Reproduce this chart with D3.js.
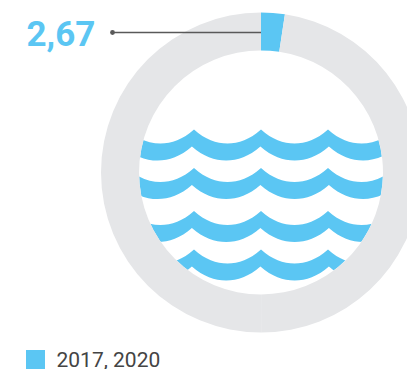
<!DOCTYPE html>
<html>
<head>
<meta charset="utf-8">
<script src="https://cdnjs.cloudflare.com/ajax/libs/d3/7.9.0/d3.min.js"></script>
<style>html,body{margin:0;padding:0;background:#fff;overflow:hidden}svg{display:block}</style>
</head>
<body>
<script>
const sliceNames = ["value", "restRight", "restLeft"];
const sliceValues = [2.67, 53.2, 55.9];
const valueLabel = "2,67";
const legendLabels = ["2017, 2020"];
const waveRows = ["row1", "row2", "row3", "row4"];
const waveCrests = [-3, -2, -1, 0, 1, 2, 3];

const W = 407, H = 369, cx = 261, cy = 172.5, R = 160, r = 122;
const BLUE = "#5bc6f3", GREY = "#e5e6e8", DARK = "#595959";
const svg = d3.select("body").append("svg").attr("width", W).attr("height", H);

const color = d3.scaleOrdinal().domain(sliceNames).range([BLUE, GREY, GREY]);
const rowY = d3.scaleOrdinal().domain(waveRows).range([129.5, 168, 211, 249.5]);
const crestTop = d3.scaleLinear().domain([0, 1]).range([261, 328]);
const crestBottom = d3.scaleLinear().domain([0, 1]).range([260.4, 328.9]);

svg.append("clipPath").attr("id", "inner").append("circle")
  .attr("cx", cx).attr("cy", cy).attr("r", r);

const waveDepth = 14, waveThick = 17, shoulder = 0.72;
// One scallop between two crests, drawn as two cubic halves meeting flat at the trough.
function scallop(p, x0, x1, y) {
  const m = (x0 + x1) / 2, d = (x1 - x0) / 6, t = y + waveDepth;
  p.bezierCurveTo(x0 + d, y + waveDepth * shoulder, m - d, t, m, t);
  p.bezierCurveTo(m + d, t, x1 - d, y + waveDepth * shoulder, x1, y);
}
function bandPath(row) {
  const y0 = rowY(row), p = d3.path();
  const top = waveCrests.map(c => crestTop(c));
  const bot = waveCrests.map(c => crestBottom(c)).reverse();
  p.moveTo(top[0], y0);
  for (let i = 1; i < top.length; i++) scallop(p, top[i - 1], top[i], y0);
  p.lineTo(bot[0], y0 + waveThick);
  for (let i = 1; i < bot.length; i++) scallop(p, bot[i - 1], bot[i], y0 + waveThick);
  p.closePath();
  return p.toString();
}
svg.append("g").attr("clip-path", "url(#inner)")
  .selectAll("path").data(waveRows).join("path")
  .attr("d", bandPath).attr("fill", BLUE);

const pie = d3.pie().sort(null)(sliceValues);
const arc = d3.arc().innerRadius(r).outerRadius(R);
svg.append("g").attr("transform", `translate(${cx},${cy})`)
  .selectAll("path").data(pie).join("path")
  .attr("d", arc).attr("fill", (d, i) => color(sliceNames[i]));

svg.append("line").attr("x1", 112.5).attr("x2", cx).attr("y1", 32.5).attr("y2", 32.5)
  .attr("stroke", DARK).attr("stroke-width", 1.3);
svg.append("circle").attr("cx", 112.5).attr("cy", 32.5).attr("r", 2.4).attr("fill", DARK);

svg.append("text").text(valueLabel).attr("x", 26.5).attr("y", 46)
  .attr("font-family", "Roboto").attr("font-weight", 700).attr("font-size", 35).attr("fill", BLUE);

const legend = svg.append("g").selectAll("g").data(legendLabels).join("g");
legend.append("rect").attr("x", 26).attr("y", 350).attr("width", 19).attr("height", 19).attr("fill", BLUE);
legend.append("text").text(d => d).attr("x", 56.5).attr("y", 367)
  .attr("font-family", "Roboto").attr("font-weight", 400).attr("font-size", 21).attr("fill", "#444");
</script>
</body>
</html>
